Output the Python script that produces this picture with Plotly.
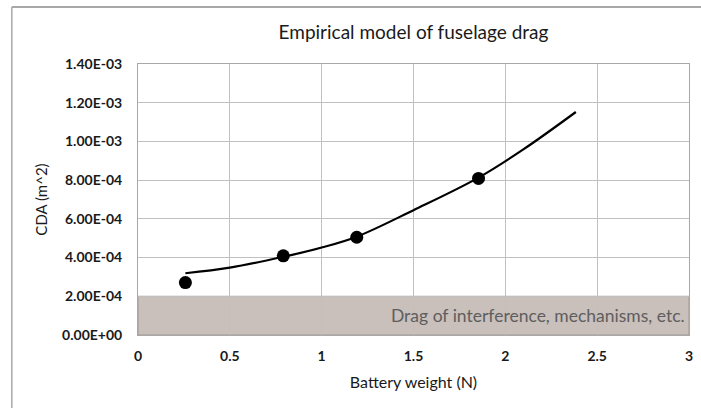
import plotly.graph_objects as go

# measured points
battery_n = [0.258, 0.791, 1.191, 1.854]
cda = [2.71e-4, 4.09e-4, 5.05e-4, 8.09e-4]

# trend curve
curve_x = [0.258, 0.5, 0.791, 1.0, 1.191, 1.5, 1.854, 2.1, 2.384]
curve_y = [3.19e-4, 3.48e-4, 4.04e-4, 4.52e-4, 5.08e-4, 6.45e-4, 8.13e-4, 9.6e-4, 1.152e-3]

# shaded band (interference drag)
band_x = [0, 3]
band_top = 2.0e-4
band_label = "Drag of interference, mechanisms, etc."

y_ticks = [0, 2e-4, 4e-4, 6e-4, 8e-4, 1.0e-3, 1.2e-3, 1.4e-3]
y_labels = ["0.00E+00", "2.00E-04", "4.00E-04", "6.00E-04", "8.00E-04",
            "1.00E-03", "1.20E-03", "1.40E-03"]
x_ticks = [0, 0.5, 1, 1.5, 2, 2.5, 3]
x_labels = ["0", "0.5", "1", "1.5", "2", "2.5", "3"]

FONT = "Lato, 'Open Sans', sans-serif"
GRID = "#c0c0c0"
BORDER = "#a8a8a8"

fig = go.Figure()

fig.add_shape(type="rect", xref="x", yref="y",
              x0=band_x[0], x1=band_x[1], y0=0, y1=band_top,
              fillcolor="#c9bfbb", line=dict(color="#a09894", width=1), layer="below")

fig.add_trace(go.Scatter(
    x=curve_x, y=curve_y, mode="lines",
    line=dict(color="black", width=2.2, shape="spline", smoothing=1),
    showlegend=False, hoverinfo="skip",
))
fig.add_trace(go.Scatter(
    x=battery_n, y=cda, mode="markers",
    marker=dict(color="black", size=13), showlegend=False,
))

fig.add_annotation(x=band_x[1], y=band_top / 2, xref="x", yref="y", text=band_label,
                   showarrow=False, xanchor="right", xshift=-2,
                   font=dict(family=FONT, size=17.5, color="#5e5e5e"))

# outer chart border (Excel chart area): top and left edges in view
fig.add_shape(type="line", xref="paper", yref="paper",
              x0=-0.229, x1=1.1, y0=1.21, y1=1.21,
              line=dict(color=BORDER, width=2))
fig.add_shape(type="line", xref="paper", yref="paper",
              x0=-0.229, x1=-0.229, y0=1.21, y1=-0.4,
              line=dict(color=BORDER, width=1.5))

fig.update_layout(
    width=701, height=408,
    margin=dict(l=138, r=8, t=64, b=73),
    paper_bgcolor="white", plot_bgcolor="white",
    title=dict(text="Empirical model of fuselage drag", x=0.5, xanchor="center",
               xref="paper", y=0.92, yanchor="middle",
               font=dict(family=FONT, size=19, color="#1a1a1a")),
    font=dict(family=FONT, color="#1a1a1a"),
    xaxis=dict(range=[0, 3], tickvals=x_ticks, ticktext=x_labels,
               showgrid=True, gridcolor=GRID, gridwidth=1,
               showline=True, linecolor=BORDER, mirror=True, zeroline=False,
               ticks="", ticklabelstandoff=8,
               tickfont=dict(family=FONT, size=14, color="#1a1a1a", weight="bold"),
               title=dict(text="Battery weight (N)", standoff=14,
                          font=dict(family=FONT, size=16, color="#1a1a1a"))),
    yaxis=dict(range=[0, 1.4e-3], tickvals=y_ticks, ticktext=y_labels,
               showgrid=True, gridcolor=GRID, gridwidth=1,
               showline=True, linecolor=BORDER, mirror=True, zeroline=False,
               ticks="", ticklabelstandoff=12,
               tickfont=dict(family=FONT, size=14, color="#1a1a1a", weight="bold"),
               title=dict(text="CDA (m^2)", standoff=10,
                          font=dict(family=FONT, size=15, color="#1a1a1a"))),
)

# drop the default page margin so the figure sits at the window origin
fig.write_html("out.html", config={"displayModeBar": False},
               post_script="document.body.style.margin='0';")
